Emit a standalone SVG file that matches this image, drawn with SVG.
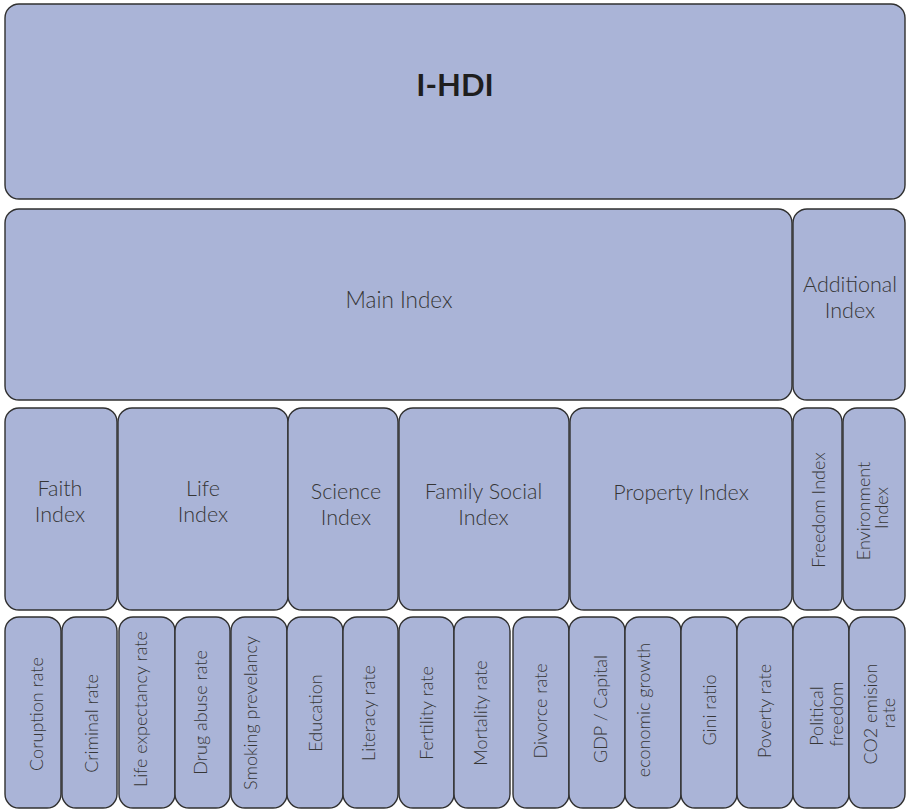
<svg xmlns="http://www.w3.org/2000/svg" width="909" height="809" viewBox="0 0 909 809">
<style>
.b{fill:#aab4d7;stroke:#303030;stroke-width:1.4}
text{font-family:Lato,"Open Sans","Liberation Sans",sans-serif;font-weight:300;fill:#363636;text-anchor:middle}
.t{font-size:31px;font-weight:700;fill:#1e1e1e}
.m{font-size:22.5px}
.h{font-size:21.5px}
.v{font-size:18px}
</style>
<rect width="909" height="809" fill="#ffffff"/>
<g id="ihdi"><rect class="b" x="5" y="4" width="900" height="195" rx="14"/><text class="t" x="455" y="96">I-HDI</text></g>
<g id="main-index"><rect class="b" x="5" y="209" width="787" height="191" rx="14"/><text class="m" x="399" y="308">Main Index</text></g>
<g id="additional-index"><rect class="b" x="793" y="209" width="112" height="191" rx="14"/><text class="h" x="850" y="292">Additional</text><text class="h" x="850" y="318">Index</text></g>
<g id="faith-index"><rect class="b" x="5" y="408" width="112" height="202" rx="14"/><text class="h" x="60" y="496">Faith</text><text class="h" x="60" y="522">Index</text></g>
<g id="life-index"><rect class="b" x="118" y="408" width="170" height="202" rx="14"/><text class="h" x="203" y="496">Life</text><text class="h" x="203" y="522">Index</text></g>
<g id="science-index"><rect class="b" x="288" y="408" width="110" height="202" rx="14"/><text class="h" x="346" y="499">Science</text><text class="h" x="346" y="525">Index</text></g>
<g id="family-social-index"><rect class="b" x="399" y="408" width="170" height="202" rx="14"/><text class="h" x="483.5" y="499">Family Social</text><text class="h" x="483.5" y="525">Index</text></g>
<g id="property-index"><rect class="b" x="570" y="408" width="222" height="202" rx="14"/><text class="h" x="681" y="500">Property Index</text></g>
<g id="freedom-index"><rect class="b" x="793" y="408" width="49" height="202" rx="14"/><text class="v" transform="translate(825 510) rotate(-90)">Freedom Index</text></g>
<g id="environment-index"><rect class="b" x="843" y="408" width="62" height="202" rx="14"/><text class="v" transform="translate(870 511) rotate(-90)">Environment</text><text class="v" transform="translate(888 508) rotate(-90)">Index</text></g>
<g id="coruption-rate"><rect class="b" x="5" y="617" width="56" height="191" rx="14"/><text class="v" transform="translate(42.5 714) rotate(-90)">Coruption rate</text></g>
<g id="criminal-rate"><rect class="b" x="62" y="617" width="55" height="191" rx="14"/><text class="v" transform="translate(98 723.5) rotate(-90)">Criminal rate</text></g>
<g id="life-expectancy-rate"><rect class="b" x="119" y="617" width="56" height="191" rx="14"/><text class="v" transform="translate(146.5 709) rotate(-90)">Life expectancy rate</text></g>
<g id="drug-abuse-rate"><rect class="b" x="175" y="617" width="55" height="191" rx="14"/><text class="v" transform="translate(206.5 712.5) rotate(-90)">Drug abuse rate</text></g>
<g id="smoking-prevelancy"><rect class="b" x="231" y="617" width="56" height="191" rx="14"/><text class="v" transform="translate(257 713) rotate(-90)">Smoking prevelancy</text></g>
<g id="education"><rect class="b" x="287" y="617" width="56" height="191" rx="14"/><text class="v" transform="translate(321.5 713) rotate(-90)">Education</text></g>
<g id="literacy-rate"><rect class="b" x="343" y="617" width="55" height="191" rx="14"/><text class="v" transform="translate(375 713) rotate(-90)">Literacy rate</text></g>
<g id="fertility-rate"><rect class="b" x="399" y="617" width="55" height="191" rx="14"/><text class="v" transform="translate(433 713) rotate(-90)">Fertility rate</text></g>
<g id="mortality-rate"><rect class="b" x="454" y="617" width="56" height="191" rx="14"/><text class="v" transform="translate(487 713) rotate(-90)">Mortality rate</text></g>
<g id="divorce-rate"><rect class="b" x="513" y="617" width="56" height="191" rx="14"/><text class="v" transform="translate(546.5 711) rotate(-90)">Divorce rate</text></g>
<g id="gdp-capital"><rect class="b" x="569" y="617" width="56" height="191" rx="14"/><text class="v" transform="translate(606.5 709) rotate(-90)">GDP / Capital</text></g>
<g id="economic-growth"><rect class="b" x="625" y="617" width="56" height="191" rx="14"/><text class="v" transform="translate(650 710) rotate(-90)">economic growth</text></g>
<g id="gini-ratio"><rect class="b" x="681" y="617" width="56" height="191" rx="14"/><text class="v" transform="translate(716 710) rotate(-90)">Gini ratio</text></g>
<g id="poverty-rate"><rect class="b" x="737" y="617" width="56" height="191" rx="14"/><text class="v" transform="translate(770.5 711) rotate(-90)">Poverty rate</text></g>
<g id="political-freedom"><rect class="b" x="793" y="617" width="56" height="191" rx="14"/><text class="v" transform="translate(822.5 716) rotate(-90)">Political</text><text class="v" transform="translate(843 714) rotate(-90)">freedom</text></g>
<g id="co2-emision-rate"><rect class="b" x="849" y="617" width="56" height="191" rx="14"/><text class="v" transform="translate(877 714) rotate(-90)">CO2 emision</text><text class="v" transform="translate(895 713) rotate(-90)">rate</text></g>
<g id="connectors"></g>
</svg>
